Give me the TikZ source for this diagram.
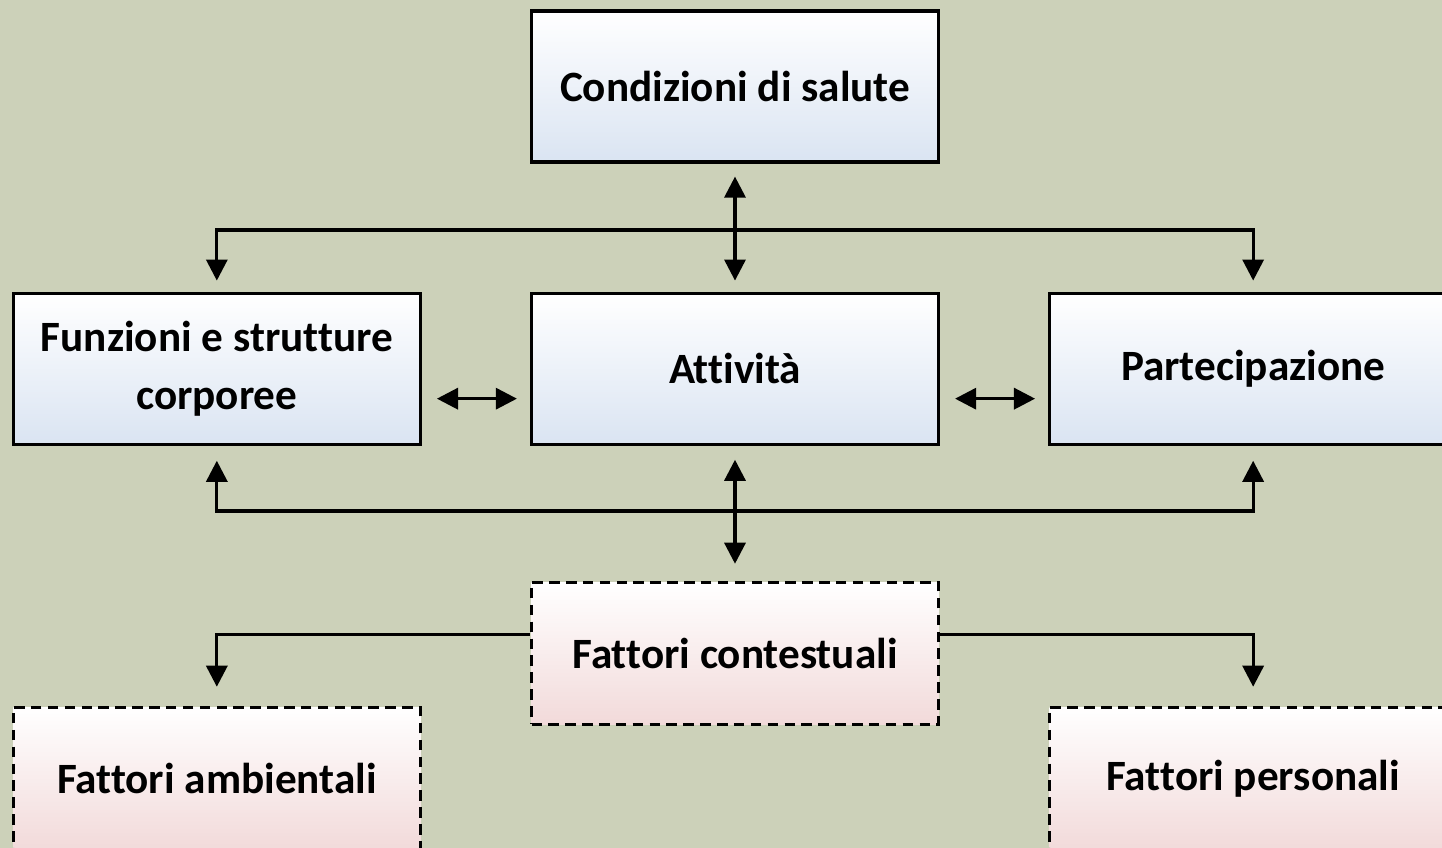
\documentclass[tikz,border=0pt]{standalone}
\usepackage{fontspec}
\setmainfont{Carlito}[Ligatures=NoCommon]
\usetikzlibrary{arrows.meta,positioning}
\definecolor{bgicf}{RGB}{204,209,185}
\definecolor{bluebox}{RGB}{218,228,242}
\definecolor{pinkbox}{RGB}{242,218,218}
\begin{document}
\begin{tikzpicture}[node distance=1.08cm,
  every node/.style = {shape=rectangle, draw, line width=0.9pt,
    align=center, minimum width=4.07cm,
    font=\bfseries\fontsize{12.3}{16.5}\selectfont},
  solidbox/.style = {minimum height=1.51cm,
    top color=white, bottom color=bluebox},
  dashbox/.style = {minimum height=1.42cm,
    top color=white, bottom color=pinkbox, dash pattern=on 3pt off 1.8pt},
  link/.style = {line width=0.9pt, -{Triangle[width=6pt,length=6pt]}},
  both/.style = {line width=0.9pt,
    {Triangle[width=6pt,length=6pt]}-{Triangle[width=6pt,length=6pt]}}]
  \useasboundingbox (0,0) rectangle (14.42,-8.48);
  \fill[bgicf] (0,0) rectangle (14.42,-8.48);
  \clip (0,0) rectangle (14.42,-8.48);
  % boxes
  \node[solidbox] (salute) at (7.35,-0.865) {Condizioni di salute};
  \node[solidbox, below=1.28cm of salute] (att) {Attività};
  \node[solidbox, left=of att] (fun) {Funzioni e strutture\\corporee};
  \node[solidbox, right=of att] (par) {Partecipazione};
  \node[dashbox, below=1.35cm of att] (fc) {Fattori contestuali};
  \node[dashbox, below=2.60cm of fun] (amb) {Fattori ambientali};
  \node[dashbox, below=2.60cm of par] (per) {Fattori personali};
  \coordinate (topbus) at (7.35,-2.30);
  \coordinate (botbus) at (7.35,-5.11);
  % connectors
  \draw[both, shorten <=0.13cm, shorten >=0.11cm] (salute) -- (att);
  \draw[both, shorten <=0.11cm, shorten >=0.11cm]
    (fun.north) |- (topbus) -| (par.north);
  \draw[both, shorten <=0.15cm, shorten >=0.13cm]
    ([yshift=-0.3cm]fun.east) -- ([yshift=-0.3cm]att.west);
  \draw[both, shorten <=0.15cm, shorten >=0.13cm]
    ([yshift=-0.3cm]att.east) -- ([yshift=-0.3cm]par.west);
  \draw[both, shorten <=0.15cm, shorten >=0.15cm]
    (fun.south) |- (botbus) -| (par.south);
  \draw[both, shorten <=0.14cm, shorten >=0.17cm] (att) -- (fc);
  \draw[link, shorten >=0.19cm] ([yshift=0.19cm]fc.west) -| (amb.north);
  \draw[link, shorten >=0.19cm] ([yshift=0.19cm]fc.east) -| (per.north);
\end{tikzpicture}
\end{document}
